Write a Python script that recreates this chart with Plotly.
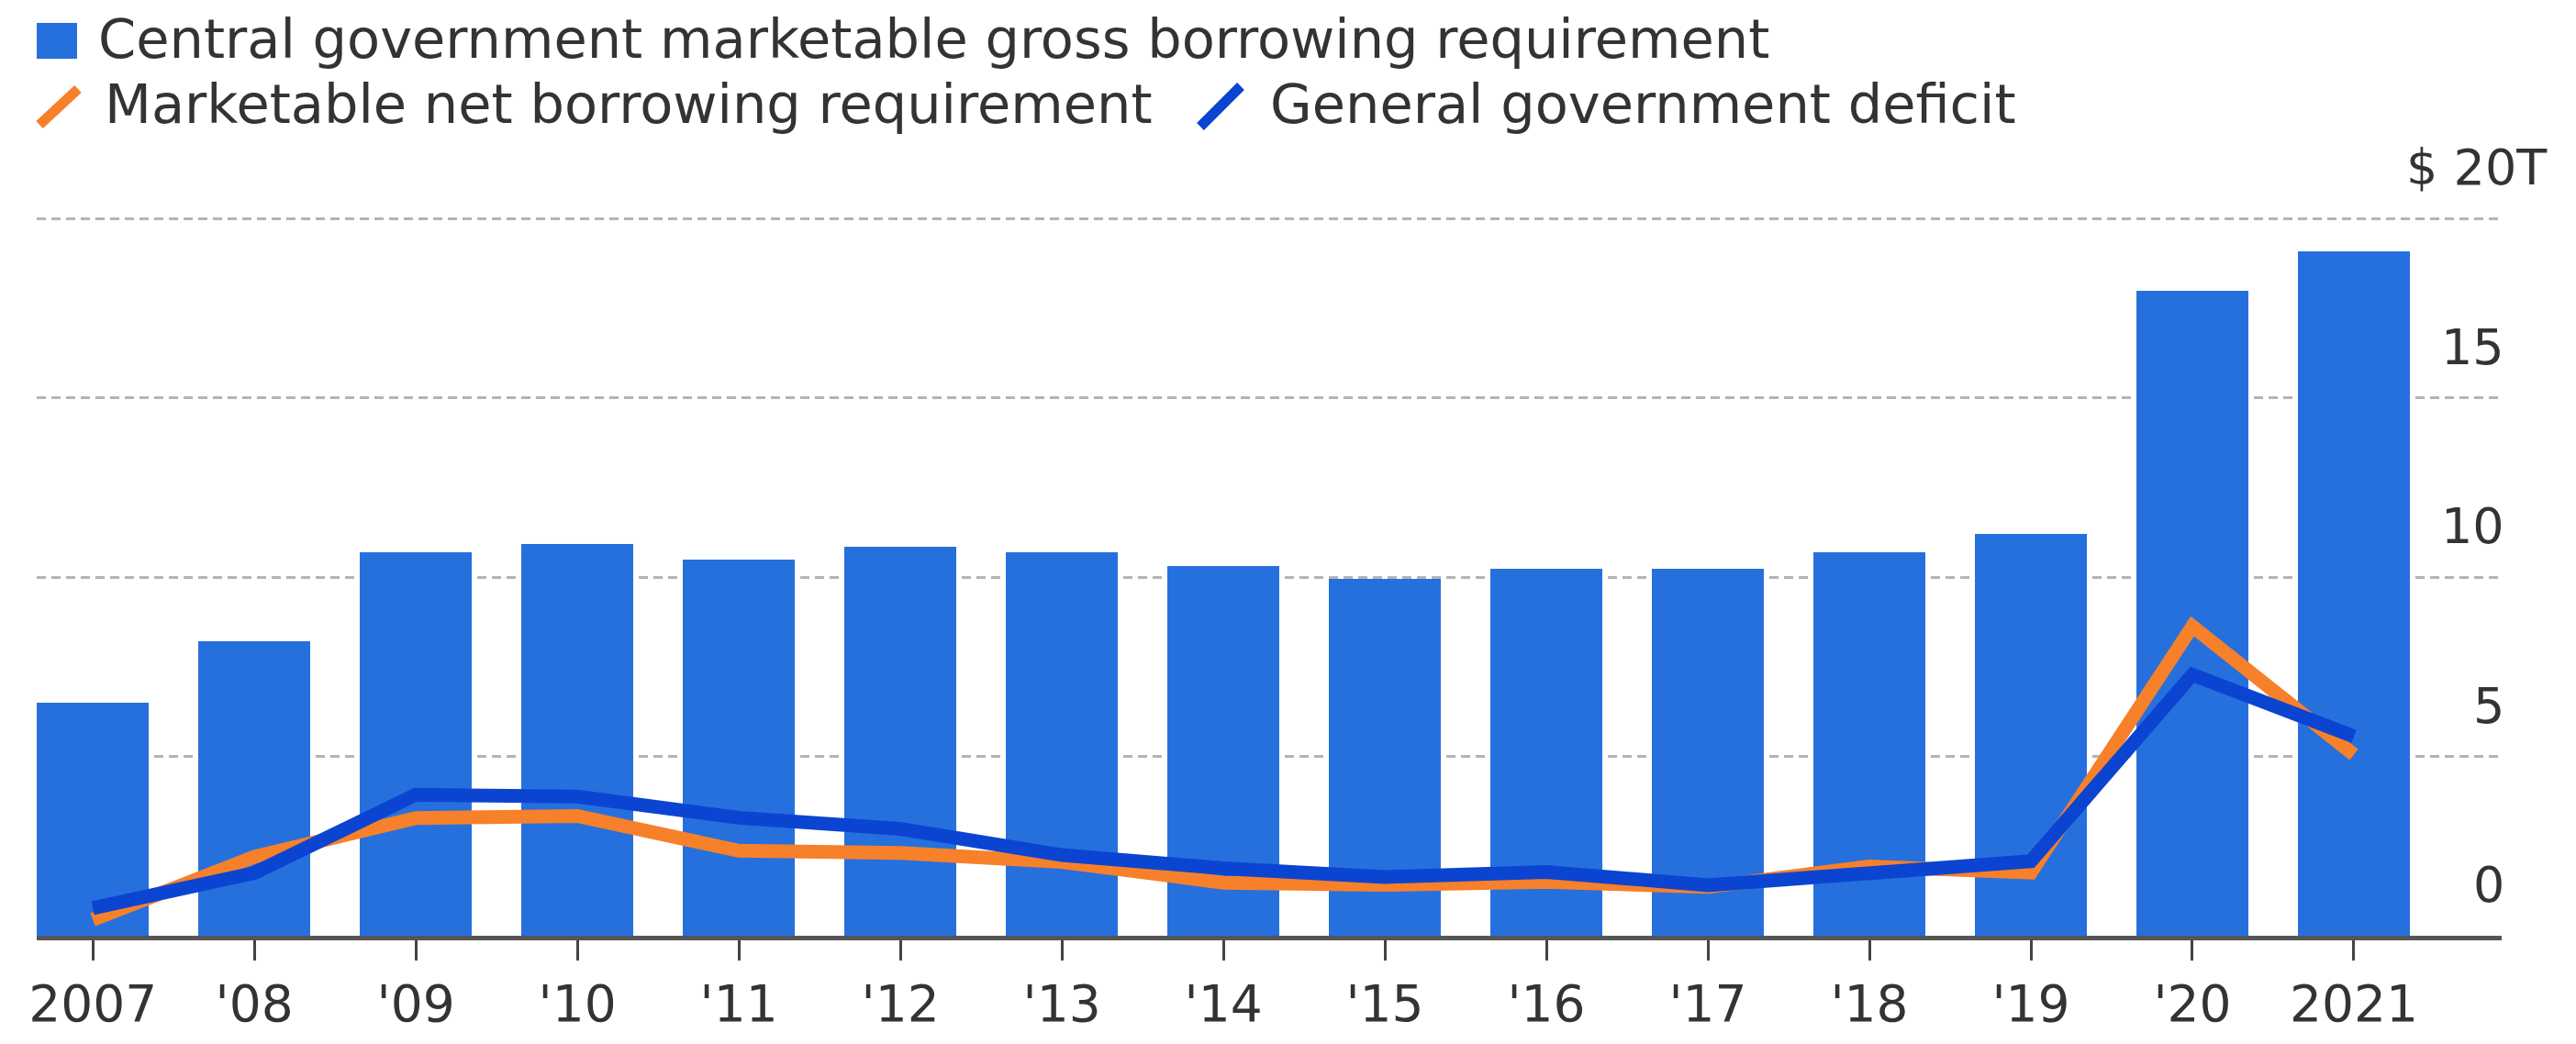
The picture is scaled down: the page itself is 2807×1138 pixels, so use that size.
import plotly.graph_objects as go

# ---------------- data ----------------
year_labels = ["2007", "'08", "'09", "'10", "'11", "'12", "'13", "'14",
               "'15", "'16", "'17", "'18", "'19", "'20", "2021"]
gross_borrowing = [6.5, 8.2, 10.7, 10.92, 10.5, 10.85, 10.7, 10.3,
                   9.95, 10.22, 10.22, 10.7, 11.2, 17.98, 19.08]
net_borrowing = [0.45, 2.2, 3.28, 3.34, 2.37, 2.31, 2.06, 1.48,
                 1.42, 1.5, 1.36, 1.93, 1.76, 8.63, 5.05]
gov_deficit = [0.77, 1.75, 3.93, 3.88, 3.29, 2.98, 2.25, 1.88,
               1.64, 1.78, 1.41, 1.76, 2.08, 7.28, 5.56]
y_tick_vals = [0, 5, 10, 15, 20]
y_tick_text = ["0", "5", "10", "15", "$ 20T"]

series_names = ["Central government marketable gross borrowing requirement",
                "Marketable net borrowing requirement",
                "General government deficit"]

# ---------------- style ----------------
BAR = "#2670DE"
ORANGE = "#F7802A"
BLUE = "#0C44D2"
TEXT = "#333333"
FONT = "DejaVu Sans"

W, H = 2807, 1138
ML, MR, MT, MB = 40, 81, 160, 118
PW = W - ML - MR
PH = H - MT - MB


def px_x(px):
    return (px - ML) / PW


def px_y(py):
    return (H - MB - py) / PH


x_idx = list(range(len(year_labels)))

fig = go.Figure()
fig.add_trace(go.Bar(x=x_idx, y=gross_borrowing, width=0.695,
                     marker=dict(color=BAR, line=dict(width=0)),
                     name=series_names[0], showlegend=False))
fig.add_trace(go.Scatter(x=x_idx, y=net_borrowing, mode="lines",
                         line=dict(color=ORANGE, width=15),
                         name=series_names[1], showlegend=False))
fig.add_trace(go.Scatter(x=x_idx, y=gov_deficit, mode="lines",
                         line=dict(color=BLUE, width=15),
                         name=series_names[2], showlegend=False))

annotations = []
# y-axis labels (above gridlines, right side)
for v, t in zip(y_tick_vals, y_tick_text):
    right_px = 2778 if t.endswith("T") else 2731
    annotations.append(dict(x=px_x(right_px), xref="paper", y=v, yref="y",
                            text=t, showarrow=False, xanchor="right",
                            yanchor="bottom", yshift=22,
                            font=dict(family=FONT, size=54, color=TEXT)))

# custom legend
legend_font = dict(family=FONT, size=59, color=TEXT)
annotations.append(dict(x=px_x(105), xref="paper", y=px_y(42), yref="paper",
                        text=series_names[0], showarrow=False, xanchor="left",
                        yanchor="middle", font=legend_font))
annotations.append(dict(x=px_x(112), xref="paper", y=px_y(113), yref="paper",
                        text=series_names[1], showarrow=False, xanchor="left",
                        yanchor="middle", font=legend_font))
annotations.append(dict(x=px_x(1382), xref="paper", y=px_y(113), yref="paper",
                        text=series_names[2], showarrow=False, xanchor="left",
                        yanchor="middle", font=legend_font))

shapes = [
    dict(type="rect", xref="paper", yref="paper",
         x0=px_x(40), x1=px_x(84), y0=px_y(64), y1=px_y(25),
         fillcolor=BAR, line=dict(width=0)),
    dict(type="line", xref="paper", yref="paper",
         x0=px_x(43), y0=px_y(136), x1=px_x(85), y1=px_y(97),
         line=dict(color=ORANGE, width=11)),
    dict(type="line", xref="paper", yref="paper",
         x0=px_x(1308), y0=px_y(138), x1=px_x(1352), y1=px_y(94),
         line=dict(color=BLUE, width=11)),
    # gap in gridlines before the value labels
    dict(type="rect", xref="paper", yref="paper", layer="between",
         x0=px_x(2616), x1=px_x(2662), y0=0.01, y1=1,
         fillcolor="white", line=dict(width=0)),
]

fig.update_layout(
    width=W, height=H,
    margin=dict(l=ML, r=MR, t=MT, b=MB, autoexpand=False),
    paper_bgcolor="white", plot_bgcolor="white",
    showlegend=False,
    bargap=0,
    annotations=annotations,
    shapes=shapes,
    font=dict(family=FONT, color=TEXT),
)
fig.update_xaxes(
    range=[-0.3475, 14.915],
    tickmode="array", tickvals=x_idx, ticktext=year_labels,
    ticks="outside", ticklen=22, tickwidth=3, tickcolor="#444444",
    showline=True, linecolor="#555555", linewidth=5,
    showgrid=False, zeroline=False, layer="below traces",
    tickfont=dict(family=FONT, size=55, color=TEXT),
    automargin=False, fixedrange=True,
)
fig.update_yaxes(
    range=[0, 22.0],
    tickmode="array", tickvals=[5, 10, 15, 20],
    showticklabels=False, ticks="",
    showgrid=True, gridcolor="#b4b4b4", gridwidth=3, griddash="10px,6px",
    zeroline=False, showline=False,
    automargin=False, fixedrange=True,
)

fig.write_html("out.html",
               config={"displayModeBar": False},
               post_script="document.body.style.margin='0';")
